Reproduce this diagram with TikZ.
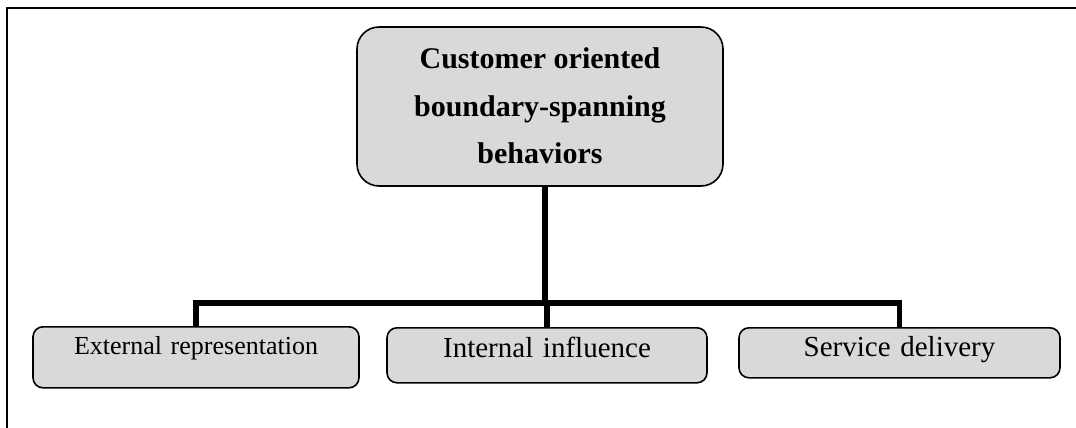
\documentclass[tikz,border=0pt]{standalone}
\usepackage{fontspec}
\setmainfont{Liberation Serif}
\definecolor{boxgray}{HTML}{D9D9D9}
\tikzset{
  frameline/.style={line width=2pt, black},
  topbox/.style={draw=black, line width=1.6pt, fill=boxgray, rounded corners=22pt,
    minimum width=366pt, minimum height=159pt, inner sep=0pt, align=center,
    font={\fontsize{30}{47.5}\selectfont\bfseries}},
  leafbox/.style={draw=black, line width=1.6pt, fill=boxgray, rounded corners=10pt,
    inner sep=0pt, align=center},
  conn/.style={line width=5.5pt, black}
}
\begin{document}
\begin{tikzpicture}[x=1pt,y=-1pt]
\useasboundingbox (0,0) rectangle (1076,428);
\draw[frameline] (7,428) -- (7,8) -- (1076,8);
\node[topbox] (top) at (540,106.5) {\raisebox{4pt}{\begin{tabular}{@{}c@{}}Customer oriented\\boundary-spanning\\behaviors\end{tabular}}};
\node[leafbox, text width=326pt, text height=28pt, text depth=33pt,
  font={\fontsize{26}{30}\selectfont}, anchor=north] (b1) at (196,326) {External representation};
\node[leafbox, text width=320pt, text height=30pt, text depth=25pt,
  font={\fontsize{29}{32}\selectfont}, anchor=north] (b2) at (547,327) {Internal influence};
\node[leafbox, text width=321pt, text height=29pt, text depth=21pt,
  font={\fontsize{29}{32}\selectfont}, anchor=north] (b3) at (899.5,327) {Service delivery};
\coordinate (j) at (545,303);
\draw[conn] (j |- top.south) -- (j);
\draw[conn] (b1.north) -- (b1.north |- j) -- (b3.north |- j) -- (b3.north);
\draw[conn] (b2.north |- j) -- (b2.north);
\end{tikzpicture}
\end{document}
